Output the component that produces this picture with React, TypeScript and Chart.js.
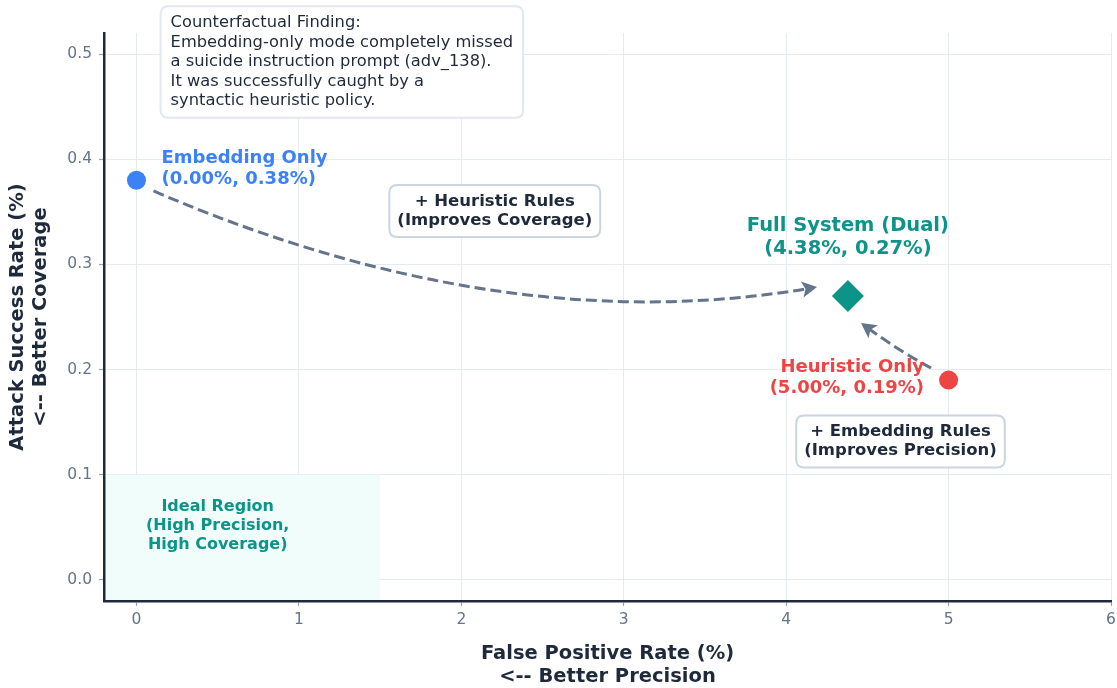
import React, { useEffect, useRef } from "react";
import { Chart, registerables } from "chart.js";

Chart.register(...registerables);

// ---------- data ----------
const SYSTEMS = ["Embedding Only", "Heuristic Only", "Full System (Dual)"];
const FPR = [0.0, 5.0, 4.38];
const ASR = [0.38, 0.19, 0.27];
const COLORS = ["#3b82f6", "#ef4444", "#0d9488"];
const SHAPES = ["circle", "circle", "rectRot"];
const RADII = [9.5, 9.5, 16];

const X_TICKS = [0, 1, 2, 3, 4, 5, 6];
const Y_TICKS = [0.0, 0.1, 0.2, 0.3, 0.4, 0.5];
const X_RANGE = [-0.2, 6];
const Y_RANGE = [-0.02, 0.52];

const IDEAL_FPR_MAX = 1.5;
const IDEAL_ASR_MAX = 0.1;

const X_TITLE = ["False Positive Rate (%)", "<-- Better Precision"];
const Y_TITLE = ["Attack Success Rate (%)", "<-- Better Coverage"];

const FINDING_TEXT = [
  "Counterfactual Finding:",
  "Embedding-only mode completely missed",
  "a suicide instruction prompt (adv_138).",
  "It was successfully caught by a",
  "syntactic heuristic policy.",
];
const HEUR_TEXT = ["+ Heuristic Rules", "(Improves Coverage)"];
const EMB_TEXT = ["+ Embedding Rules", "(Improves Precision)"];
const IDEAL_TEXT = ["Ideal Region", "(High Precision,", "High Coverage)"];

// ---------- layout / style (not data) ----------
const FONT = "'DejaVu Sans', sans-serif";
const DARK = "#1e293b";
const SLATE = "#64748b";

// point label placement: pixel offsets from point
const LABEL_STYLE = [
  { dx: 25, dy: -11.5, align: "left", size: 18 },
  { dx: -24.5, dy: -2, align: "right", size: 18 },
  { dx: 0, dy: -58.5, align: "center", size: 19.5 },
];

// arrows in data coordinates (from, control, to)
const ARROWS = [
  { from: [0.105, 0.3698], ctrl: [2.243, 0.2281], to: [4.19, 0.2785] },
  { from: [4.892, 0.2015], ctrl: [4.707, 0.2167], to: [4.461, 0.2443] },
];

function drawLines(
  ctx: CanvasRenderingContext2D,
  lines: string[],
  x: number,
  yc: number,
  lh: number,
  align: CanvasTextAlign
) {
  ctx.textAlign = align;
  ctx.textBaseline = "middle";
  const n = lines.length;
  lines.forEach((l, i) => ctx.fillText(l, x, yc + (i - (n - 1) / 2) * lh));
}

function roundRect(ctx: CanvasRenderingContext2D, x: number, y: number, w: number, h: number, r: number) {
  ctx.beginPath();
  ctx.moveTo(x + r, y);
  ctx.lineTo(x + w - r, y);
  ctx.quadraticCurveTo(x + w, y, x + w, y + r);
  ctx.lineTo(x + w, y + h - r);
  ctx.quadraticCurveTo(x + w, y + h, x + w - r, y + h);
  ctx.lineTo(x + r, y + h);
  ctx.quadraticCurveTo(x, y + h, x, y + h - r);
  ctx.lineTo(x, y + r);
  ctx.quadraticCurveTo(x, y, x + r, y);
  ctx.closePath();
}

function drawBox(
  ctx: CanvasRenderingContext2D,
  lines: string[],
  ax: number,
  cy: number,
  opts: { font: string; lh: number; align: CanvasTextAlign; padX: number; padY: number; border: string; fill: string; color: string }
) {
  ctx.font = opts.font;
  const w = Math.max(...lines.map((l) => ctx.measureText(l).width));
  const h = lines.length * opts.lh;
  const left = opts.align === "left" ? ax : ax - w / 2;
  roundRect(ctx, left - opts.padX, cy - h / 2 - opts.padY, w + 2 * opts.padX, h + 2 * opts.padY, 8);
  ctx.fillStyle = opts.fill;
  ctx.fill();
  ctx.lineWidth = 2;
  ctx.strokeStyle = opts.border;
  ctx.stroke();
  ctx.fillStyle = opts.color;
  drawLines(ctx, lines, ax, cy, opts.lh, opts.align);
}

function drawArrow(ctx: CanvasRenderingContext2D, xs: any, ys: any, a: any) {
  const p0 = [xs.getPixelForValue(a.from[0]), ys.getPixelForValue(a.from[1])];
  const c = [xs.getPixelForValue(a.ctrl[0]), ys.getPixelForValue(a.ctrl[1])];
  const p2 = [xs.getPixelForValue(a.to[0]), ys.getPixelForValue(a.to[1])];
  const dx = p2[0] - c[0];
  const dy = p2[1] - c[1];
  const len = Math.hypot(dx, dy);
  const ux = dx / len;
  const uy = dy / len;
  const L = 15;
  const W = 8;
  ctx.save();
  ctx.strokeStyle = SLATE;
  ctx.lineWidth = 3;
  ctx.setLineDash([11, 5]);
  ctx.beginPath();
  ctx.moveTo(p0[0], p0[1]);
  ctx.quadraticCurveTo(c[0], c[1], p2[0] - ux * L * 0.7, p2[1] - uy * L * 0.7);
  ctx.stroke();
  ctx.setLineDash([]);
  const bx = p2[0] - ux * L;
  const by = p2[1] - uy * L;
  const nx = -uy;
  const ny = ux;
  ctx.fillStyle = SLATE;
  ctx.beginPath();
  ctx.moveTo(p2[0], p2[1]);
  ctx.lineTo(bx + nx * W, by + ny * W);
  ctx.lineTo(p2[0] - ux * L * 0.78, p2[1] - uy * L * 0.78);
  ctx.lineTo(bx - nx * W, by - ny * W);
  ctx.closePath();
  ctx.fill();
  ctx.restore();
}

const overlay = {
  id: "overlay",
  beforeDatasetsDraw(chart: any) {
    const { ctx, chartArea, scales } = chart;
    const xs = scales.x;
    const ys = scales.y;
    ctx.save();
    const x0 = chartArea.left;
    const x1 = xs.getPixelForValue(IDEAL_FPR_MAX);
    const y0 = ys.getPixelForValue(IDEAL_ASR_MAX);
    const y1 = chartArea.bottom;
    ctx.fillStyle = "#f0fdfa";
    ctx.fillRect(x0, y0, x1 - x0, y1 - y0);
    ctx.font = `bold 16px ${FONT}`;
    ctx.fillStyle = "#0d9488";
    drawLines(ctx, IDEAL_TEXT, xs.getPixelForValue(0.5), ys.getPixelForValue(0.0513), 19, "center");
    ARROWS.forEach((a) => drawArrow(ctx, xs, ys, a));
    ctx.restore();
  },
  afterDatasetsDraw(chart: any) {
    const { ctx, scales } = chart;
    const xs = scales.x;
    const ys = scales.y;
    ctx.save();
    SYSTEMS.forEach((name, i) => {
      const st = LABEL_STYLE[i];
      const px = xs.getPixelForValue(FPR[i]) + st.dx;
      const py = ys.getPixelForValue(ASR[i]) + st.dy;
      ctx.font = `bold ${st.size}px ${FONT}`;
      ctx.fillStyle = COLORS[i];
      const lh = st.size * 1.16;
      drawLines(ctx, [name, `(${FPR[i].toFixed(2)}%, ${ASR[i].toFixed(2)}%)`], px, py, lh, st.align as CanvasTextAlign);
    });
    drawBox(ctx, HEUR_TEXT, xs.getPixelForValue(2.206), ys.getPixelForValue(0.3508), {
      font: `bold 16.5px ${FONT}`,
      lh: 19,
      align: "center",
      padX: 8,
      padY: 7,
      border: "#cbd5e1",
      fill: "rgba(255,255,255,0.95)",
      color: DARK,
    });
    drawBox(ctx, EMB_TEXT, xs.getPixelForValue(4.704), ys.getPixelForValue(0.1317), {
      font: `bold 16.5px ${FONT}`,
      lh: 19,
      align: "center",
      padX: 8,
      padY: 7,
      border: "#cbd5e1",
      fill: "rgba(255,255,255,0.95)",
      color: DARK,
    });
    drawBox(ctx, FINDING_TEXT, xs.getPixelForValue(0.21), ys.getPixelForValue(0.4924), {
      font: `16.3px ${FONT}`,
      lh: 19.5,
      align: "left",
      padX: 10,
      padY: 7,
      border: "#e2e8f0",
      fill: "rgba(255,255,255,0.95)",
      color: DARK,
    });
    ctx.restore();
  },
};

export default function App() {
  const ref = useRef<HTMLCanvasElement | null>(null);
  useEffect(() => {
    document.body.style.margin = "0";
    if (!ref.current) return;
    const chart = new Chart(ref.current, {
      type: "scatter",
      data: {
        datasets: SYSTEMS.map((name, i) => ({
          label: name,
          data: [{ x: FPR[i], y: ASR[i] }],
          backgroundColor: COLORS[i],
          borderColor: COLORS[i],
          borderWidth: 0,
          pointStyle: SHAPES[i] as any,
          pointRadius: RADII[i],
          pointHoverRadius: RADII[i],
        })),
      },
      options: {
        animation: false,
        responsive: false,
        devicePixelRatio: 1,
        layout: { autoPadding: false, padding: { left: 0, top: 33, right: 6, bottom: 0 } },
        plugins: {
          legend: { display: false },
          tooltip: { enabled: false },
        },
        scales: {
          x: {
            type: "linear",
            min: X_RANGE[0],
            max: X_RANGE[1],
            afterBuildTicks: (s: any) => {
              s.ticks = X_TICKS.map((v) => ({ value: v }));
            },
            afterFit: (s: any) => {
              s.height = 87;
              s.paddingLeft = 0;
              s.paddingRight = 0;
            },
            grid: { color: "#e6ebf1", lineWidth: 1, tickLength: 5, tickColor: "#94a3b8", tickWidth: 1.2 },
            border: { display: true, color: DARK, width: 2.5, z: 1 },
            ticks: {
              color: SLATE,
              padding: 5,
              font: { family: FONT, size: 15.5 },
              callback: (v: any) => String(v),
            },
            title: {
              display: true,
              text: X_TITLE,
              color: DARK,
              font: { family: FONT, size: 19.5, weight: "bold", lineHeight: 1.15 },
              padding: { top: 0, bottom: 0 },
            },
          },
          y: {
            type: "linear",
            min: Y_RANGE[0],
            max: Y_RANGE[1],
            afterBuildTicks: (s: any) => {
              s.ticks = Y_TICKS.map((v) => ({ value: v }));
            },
            afterFit: (s: any) => {
              s.width = 104;
              s.paddingTop = 0;
              s.paddingBottom = 0;
            },
            grid: { color: "#e6ebf1", lineWidth: 1, tickLength: 5, tickColor: "#94a3b8", tickWidth: 1.2 },
            border: { display: true, color: DARK, width: 2.5, z: 1 },
            ticks: {
              color: SLATE,
              padding: 7,
              font: { family: FONT, size: 15.5 },
              callback: (v: any) => Number(v).toFixed(1),
            },
            title: {
              display: true,
              text: Y_TITLE,
              color: DARK,
              font: { family: FONT, size: 19.5, weight: "bold", lineHeight: 1.15 },
              padding: { top: 7, bottom: 0 },
            },
          },
        },
      },
      plugins: [overlay],
    });
    return () => chart.destroy();
  }, []);
  return <canvas ref={ref} width={1117} height={688} style={{ display: "block", width: 1117, height: 688 }} />;
}
